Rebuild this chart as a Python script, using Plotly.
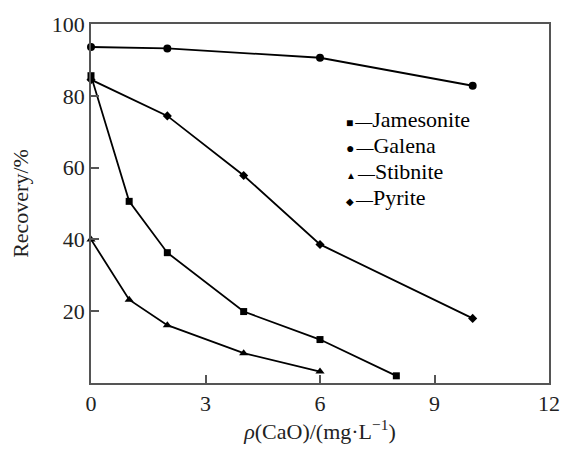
import plotly.graph_objects as go

# Data
jam_x = [0, 1, 2, 4, 6, 8]
jam_y = [85.6, 50.6, 36.3, 19.9, 12.1, 2.0]
gal_x = [0, 2, 6, 10]
gal_y = [93.6, 93.2, 90.6, 82.8]
sti_x = [0, 1, 2, 4, 6]
sti_y = [40.0, 23.2, 16.1, 8.3, 3.2]
pyr_x = [0, 2, 4, 6, 10]
pyr_y = [84.5, 74.4, 57.8, 38.6, 18.0]

x_ticks = [0, 3, 6, 9, 12]
y_ticks = [20, 40, 60, 80, 100]

series = [
    ("Jamesonite", jam_x, jam_y, "square", 7, "■", 12),
    ("Galena", gal_x, gal_y, "circle", 8, "●", 14),
    ("Stibnite", sti_x, sti_y, "triangle-up", 8, "▲", 10),
    ("Pyrite", pyr_x, pyr_y, "diamond", 7, "◆", 10),
]

FONT = "Liberation Serif"
fig = go.Figure()
for name, xs, ys, sym, msize, glyph, gsize in series:
    fig.add_trace(go.Scatter(
        x=xs, y=ys, mode="lines+markers", name=name,
        line=dict(color="black", width=1.8),
        marker=dict(symbol=sym, size=msize, color="black"),
        cliponaxis=False, showlegend=False,
    ))

# legend drawn as text
leg_top = 0.733
for i, (name, xs, ys, sym, msize, glyph, gsize) in enumerate(series):
    fig.add_annotation(
        xref="paper", yref="paper", x=0.552, y=leg_top - i * 0.0725,
        xanchor="left", yanchor="middle", showarrow=False,
        text=(f"<span style='font-size:{gsize}px'>{glyph}</span>"
              f"<span style='font-size:8px'> </span>"
              f"<span style='font-size:17px'>—</span>{name}"),
        font=dict(family=FONT, size=22, color="black"),
    )

axis_common = dict(
    showline=True, linecolor="#555", linewidth=1.5, mirror=True,
    ticks="inside", ticklen=8, tickwidth=1.5, tickcolor="#555",
    showgrid=False, zeroline=False,
    tickfont=dict(family=FONT, size=22, color="#222"),
)

fig.update_layout(
    width=572, height=450,
    margin=dict(l=91, r=18, t=23, b=56),
    paper_bgcolor="white", plot_bgcolor="white",
    xaxis=dict(range=[0, 12], tickvals=x_ticks, ticktext=[str(v) for v in x_ticks],
               title=dict(text="<i>ρ</i>(CaO)/(mg·L<sup>−1</sup>)", standoff=6,
                          font=dict(family=FONT, size=22, color="#222")),
               **axis_common),
    yaxis=dict(range=[0, 100], tickvals=y_ticks, ticktext=[str(v) for v in y_ticks],
               title=dict(text="Recovery/%", standoff=17,
                          font=dict(family=FONT, size=22, color="#222")),
               **axis_common),
)

fig.write_html("out.html")
